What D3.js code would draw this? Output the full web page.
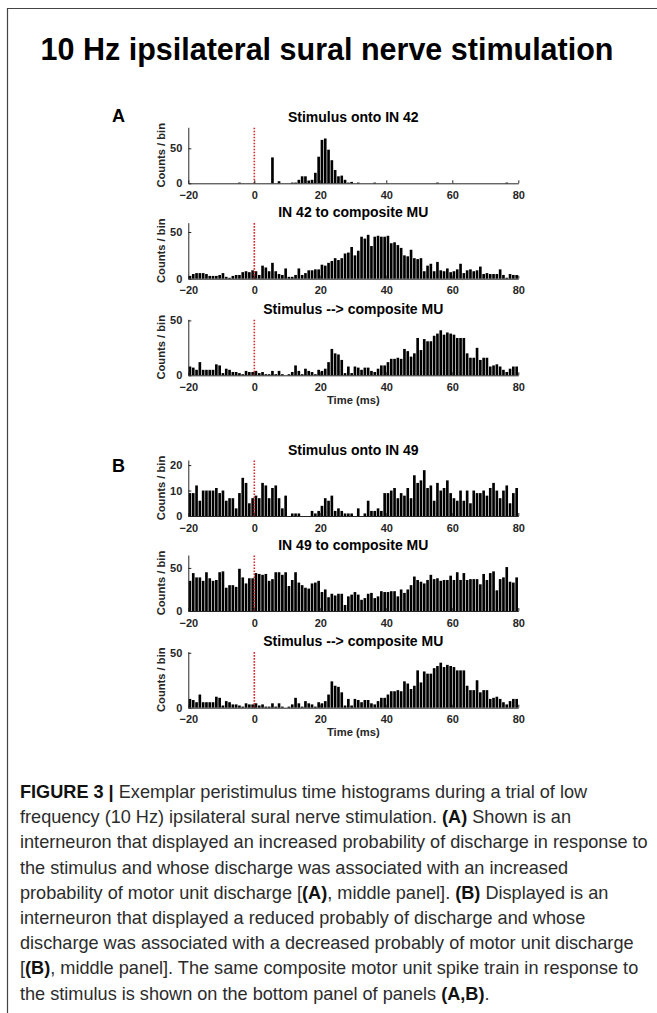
<!DOCTYPE html>
<html>
<head>
<meta charset="utf-8">
<script src="https://cdn.jsdelivr.net/npm/d3@7"></script>
<style>
  body { margin: 0; background: #fff; }
  svg { display: block; font-family: "Liberation Sans", Arial, Helvetica, sans-serif; }
  .cap { white-space: pre; }
</style>
</head>
<body>
<svg id="fig" width="657" height="1013"></svg>
<script>
// ---- data (counts per 1 ms bin, bins start at -20 ... 79 ms) ----
const timeTicks = [-20, 0, 20, 40, 60, 80];
const binStarts = d3.range(-20, 80);

const in42Stim = [
  0,0,0,0,0,0,0,0,0,0,   0,0,0,0,0,1,0,0,0,0,
  0,0,0,0,0,37,0,3,0,0,  0,1,1,5,10,10,4,5,15,38,
  62,64,48,33,19,10,11,5,1,2,  0,1,0,0,0,0,1,0,0,0,
  0,0,0,0,0,0,0,0,0,0,   0,0,0,0,0,1,0,0,0,0,
  0,0,0,0,0,0,0,0,0,0,   0,0,0,0,0,0,1,0,0,0
];
const in42ToMU = [
  3,5,6,6,6,5,3,3,3,4,   6,2,1,3,4,4,7,8,7,9,
  8,4,14,12,8,17,8,5,4,11,  2,2,4,11,4,6,9,9,10,10,
  15,14,17,19,22,20,22,27,28,34,  25,30,45,43,47,35,45,46,45,45,
  46,38,39,36,33,25,24,31,22,21,  22,8,14,16,8,18,9,8,11,7,
  8,10,16,6,9,10,8,9,13,5,   6,5,5,5,10,4,1,5,4,4
];
const stimToMU = [
  8,7,5,12,5,5,5,5,10,9,   2,6,5,3,3,2,1,4,3,3,
  4,2,3,1,1,4,1,4,1,0,   1,3,9,4,1,6,4,3,1,5,
  4,6,12,24,20,19,14,2,8,2,  8,7,5,7,7,4,3,6,9,9,
  12,15,15,16,15,24,22,17,20,34,  23,33,31,31,36,38,41,37,39,38,
  37,34,34,34,20,16,16,25,14,16,  16,8,9,10,8,5,3,6,8,8
];
const in49Stim = [
  9,9,12,6,10,10,10,10,11,9,  10,6,7,7,3,9,15,13,5,7,
  8,7,13,12,7,11,12,7,3,8,   0,1,1,1,0,0,0,2,1,2,
  4,7,6,8,2,3,2,1,1,1,       0,3,0,1,6,2,2,3,2,9,
  9,10,11,7,9,8,11,7,16,13,  14,18,11,12,6,13,10,11,14,9,
  7,6,10,6,10,5,10,9,9,10,   8,11,13,10,7,10,12,5,9,11
];
const in49ToMU = [
  35,44,39,39,35,45,38,35,36,45,  46,27,30,30,28,49,39,32,38,38,
  44,43,42,43,35,37,45,45,42,45,  29,36,45,33,30,27,26,32,33,35,
  22,25,16,20,18,20,20,7,17,19,   22,19,13,15,20,21,15,17,23,22,
  22,23,23,17,25,21,25,30,40,36,  34,32,36,42,37,38,35,36,36,41,
  36,45,36,44,36,37,37,37,31,43,  36,44,46,24,37,39,51,34,33,39
];

const panelTitles = ["Stimulus onto IN 42", "IN 42 to composite MU", "Stimulus --> composite MU",
                     "Stimulus onto IN 49", "IN 49 to composite MU", "Stimulus --> composite MU"];
const panelCounts = [in42Stim, in42ToMU, stimToMU, in49Stim, in49ToMU, stimToMU];
const panelYMax   = [80, 60, 51, 22, 65, 51];
const panelYTicks = [[0, 50], [0, 50], [0, 50], [0, 10, 20], [0, 50], [0, 50]];
const groupLabels = ["A", "B"];

const captionLines = [
  [["FIGURE 3 |", true], [" Exemplar peristimulus time histograms during a trial of low", false]],
  [["frequency (10 Hz) ipsilateral sural nerve stimulation. ", false], ["(A)", true], [" Shown is an", false]],
  [["interneuron that displayed an increased probability of discharge in response to", false]],
  [["the stimulus and whose discharge was associated with an increased", false]],
  [["probability of motor unit discharge [", false], ["(A)", true], [", middle panel]. ", false], ["(B)", true], [" Displayed is an", false]],
  [["interneuron that displayed a reduced probably of discharge and whose", false]],
  [["discharge was associated with a decreased probably of motor unit discharge", false]],
  [["[", false], ["(B)", true], [", middle panel]. The same composite motor unit spike train in response to", false]],
  [["the stimulus is shown on the bottom panel of panels ", false], ["(A,B)", true], [".", false]]
];

// ---- layout ----
const W = 657, H = 1013;
const axL = 188.3, axR = 518.3, axH = 56;
const panelTop = [127.3, 222.7, 319.3, 460, 555, 651.7];
const axisColor = "#262626";

const svg = d3.select("#fig");

// frame
svg.append("path")
  .attr("d", `M7.5,${H} V8.5 H${W}`)
  .attr("fill", "none").attr("stroke", "#444").attr("stroke-width", 1.2);

// main title
svg.append("text")
  .attr("x", 327).attr("y", 60)
  .attr("text-anchor", "middle")
  .attr("font-size", 30.5).attr("font-weight", "bold").attr("fill", "#000")
  .text("10 Hz ipsilateral sural nerve stimulation");

const x = d3.scaleLinear().domain([-20, 80]).range([axL, axR]);
const binW = x(1) - x(0);

panelCounts.forEach((counts, pi) => {
  const top = panelTop[pi];
  const y = d3.scaleLinear().domain([0, panelYMax[pi]]).range([top + axH, top]);
  const g = svg.append("g");

  // bars
  g.selectAll("rect")
    .data(binStarts)
    .join("rect")
    .attr("x", (d) => x(d) + binW * 0.1)
    .attr("width", binW * 0.8)
    .attr("y", (d, i) => y(counts[i]))
    .attr("height", (d, i) => y(0) - y(counts[i]))
    .attr("fill", "#000");

  // stimulus marker at t = 0
  g.append("line")
    .attr("x1", x(0)).attr("x2", x(0))
    .attr("y1", y(0)).attr("y2", top)
    .attr("stroke", "#e3262b").attr("stroke-width", 1.6)
    .attr("stroke-dasharray", "1.6,1.4");

  // axes
  const yAxis = g.append("g")
    .attr("transform", `translate(${axL},0)`)
    .call(d3.axisLeft(y).tickValues(panelYTicks[pi]).tickSizeInner(-3).tickSizeOuter(0).tickPadding(6));
  const xAxis = g.append("g")
    .attr("transform", `translate(0,${y(0)})`)
    .call(d3.axisBottom(x).tickValues(timeTicks).tickSizeInner(-3).tickSizeOuter(0).tickPadding(8));
  [yAxis, xAxis].forEach(a => {
    a.selectAll("path, line").attr("stroke", axisColor);
    a.selectAll("text").attr("fill", axisColor)
      .attr("font-size", 11).attr("font-weight", "bold")
      .attr("font-family", "'Liberation Sans', Arial, sans-serif");
  });

  // panel title
  g.append("text")
    .attr("x", (axL + axR) / 2).attr("y", top - 5.5)
    .attr("text-anchor", "middle")
    .attr("font-size", 14).attr("font-weight", "bold").attr("fill", "#000")
    .text(panelTitles[pi]);

  // y label
  const ly = top + axH / 2;
  g.append("text")
    .attr("transform", `translate(161.5,${ly}) rotate(-90)`)
    .attr("text-anchor", "middle").attr("dy", "0.35em")
    .attr("font-size", 11.2).attr("font-weight", "bold").attr("fill", axisColor)
    .text("Counts / bin");

  // x label under bottom panel of each group
  if (pi === 2 || pi === 5) {
    g.append("text")
      .attr("x", (axL + axR) / 2).attr("y", y(0) + 28.5)
      .attr("text-anchor", "middle")
      .attr("font-size", 11.2).attr("font-weight", "bold").attr("fill", axisColor)
      .text("Time (ms)");
  }
});

// group letters
groupLabels.forEach((lab, i) => {
  svg.append("text")
    .attr("x", 112).attr("y", i === 0 ? 121.5 : 471.5)
    .attr("font-size", 18).attr("font-weight", "bold").attr("fill", "#000")
    .text(lab);
});

// caption
const capFont = "'Liberation Sans Narrow', 'Arial Narrow', 'Liberation Sans', Arial, sans-serif";
const capTop = 798, capStep = 25.2, capLeft = 20, capRefW = 628;
const capTexts = captionLines.map((segs, li) => {
  const t = svg.append("text").attr("class", "cap")
    .attr("font-family", capFont).attr("font-size", 19);
  segs.forEach(([s, b]) => {
    t.append("tspan")
      .attr("font-weight", b ? "bold" : "normal")
      .attr("fill", b ? "#111" : "#2b2b2b")
      .text(s);
  });
  return t;
});
const widest = capTexts[2].node().getComputedTextLength();
const sx = capRefW / widest;
capTexts.forEach((t, li) => {
  t.attr("transform", `translate(${capLeft},${capTop + li * capStep}) scale(${sx},1)`);
});
</script>
</body>
</html>
